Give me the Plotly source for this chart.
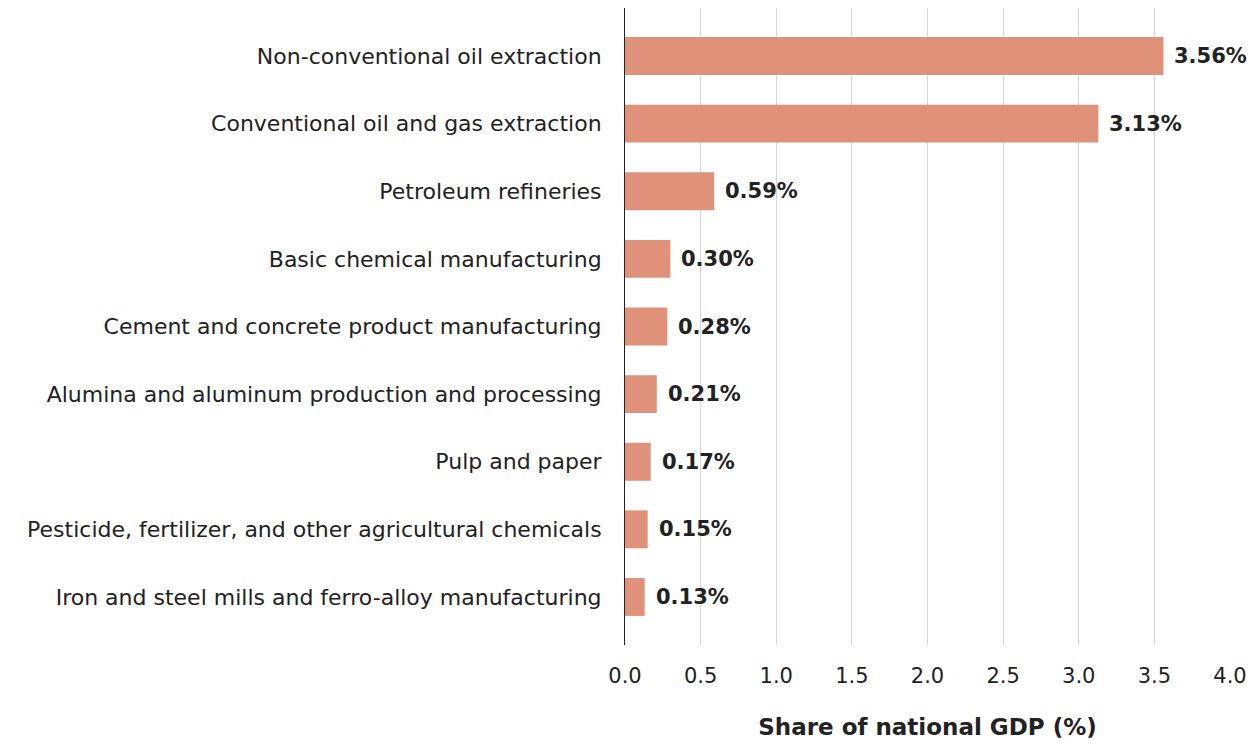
import plotly.graph_objects as go

industries = [
    "Non-conventional oil extraction",
    "Conventional oil and gas extraction",
    "Petroleum refineries",
    "Basic chemical manufacturing",
    "Cement and concrete product manufacturing",
    "Alumina and aluminum production and processing",
    "Pulp and paper",
    "Pesticide, fertilizer, and other agricultural chemicals",
    "Iron and steel mills and ferro-alloy manufacturing",
]
gdp_share = [3.56, 3.13, 0.59, 0.30, 0.28, 0.21, 0.17, 0.15, 0.13]
x_ticks = [0.0, 0.5, 1.0, 1.5, 2.0, 2.5, 3.0, 3.5, 4.0]

FONT = "'DejaVu Sans', 'Open Sans', sans-serif"
INK = "#222222"

fig = go.Figure(
    go.Bar(
        x=gdp_share,
        y=industries,
        orientation="h",
        marker=dict(color="#E0917A", line=dict(width=0)),
        width=0.56,
        cliponaxis=False,
        hoverinfo="skip",
    )
)

# value labels just past the end of each bar
for name, v in zip(industries, gdp_share):
    fig.add_annotation(
        x=v, y=name, xref="x", yref="y",
        text=f"<b>{v:.2f}%</b>",
        showarrow=False,
        xanchor="left", yanchor="middle",
        xshift=9,
        font=dict(family=FONT, size=21, color=INK),
    )

fig.update_layout(
    width=1255,
    height=745,
    margin=dict(l=625, r=17, t=8, b=100),
    paper_bgcolor="white",
    plot_bgcolor="white",
    showlegend=False,
    font=dict(family=FONT, color=INK),
    xaxis=dict(
        range=[0, 4.0],
        tickvals=x_ticks,
        ticktext=[f"{t:.1f}" for t in x_ticks],
        showgrid=True,
        gridcolor="#d6d6d6",
        gridwidth=1,
        zeroline=False,
        showline=False,
        tickfont=dict(size=21, color=INK),
        ticklabelstandoff=16,
        title=dict(
            text="<b>Share of national GDP (%)</b>",
            font=dict(size=23, color=INK),
            standoff=31,
        ),
    ),
    yaxis=dict(
        type="category",
        range=[8.71, -0.71],
        showgrid=False,
        zeroline=False,
        showline=True,
        linecolor="#222222",
        linewidth=1,
        tickfont=dict(size=22, color=INK),
        ticklabelstandoff=18,
    ),
)

fig.write_html("out.html")
